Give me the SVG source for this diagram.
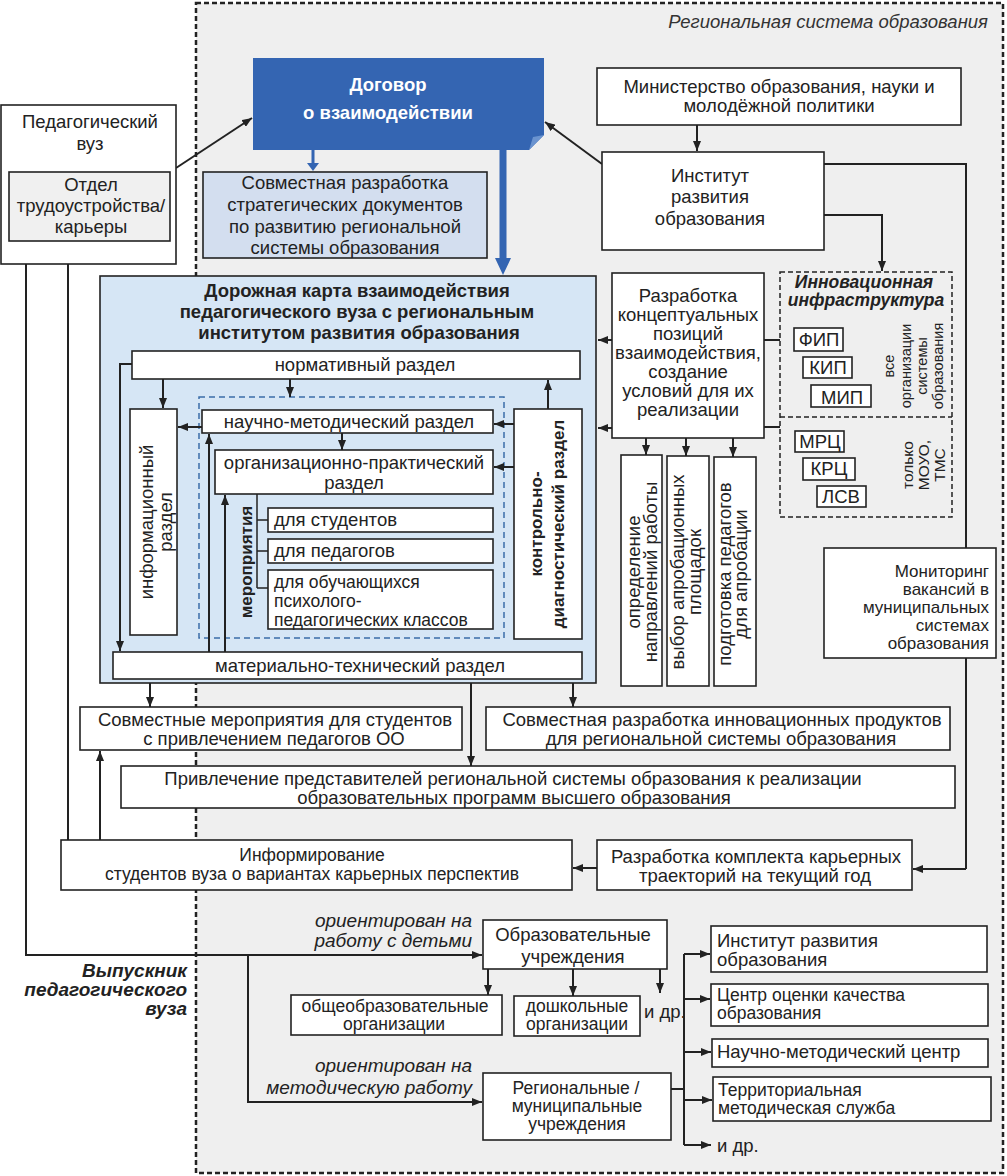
<svg xmlns="http://www.w3.org/2000/svg" width="1007" height="1176" viewBox="0 0 1007 1176">
<defs>
<style>
text{font-family:"Liberation Sans",Arial,sans-serif;font-size:18.5px;fill:#222}
.m{text-anchor:middle}
.e{text-anchor:end}
.b{font-weight:bold}
.i{font-style:italic}
.s{font-size:17.5px}
.xs{font-size:17px}
.box{fill:#fff;stroke:#222;stroke-width:1.6}
.ln{fill:none;stroke:#222;stroke-width:2}
.ar{fill:none;stroke:#222;stroke-width:2;marker-end:url(#a)}
</style>
<marker id="a" markerWidth="10" markerHeight="8" refX="10" refY="4" orient="auto" markerUnits="userSpaceOnUse"><path d="M0,0 L10,4 L0,8 z" fill="#222"/></marker>
</defs>
<rect width="1007" height="1176" fill="#fff"/>
<g id="region">
<rect x="196" y="3" width="807" height="1170" fill="#efefef" stroke="#222" stroke-width="2.5" stroke-dasharray="5,3"/>
<text x="988" y="28" class="e i" style="fill:#333">Региональная система образования</text>
</g>

<g id="connectors">
<path class="ar" d="M176,168 L252,118"/>
<path class="ar" d="M602,164 L545,122"/>
<path class="ar" d="M697,125 V151"/>
<path class="ln" d="M824,164 H966 V869"/>
<path class="ar" d="M966,869 H913"/>
<path class="ar" d="M824,215 H882 V271"/>
<path class="ar" d="M612,340 H598"/>
<path class="ar" d="M612,428 H598"/>
<path class="ln" d="M764,340 H780 M764,427 H780"/>
<path class="ar" d="M646,438 V455"/>
<path class="ar" d="M686,438 V456"/>
<path class="ar" d="M733,438 V457"/>
<path class="ar" d="M150,683 V707"/>
<path class="ar" d="M471,683 V766"/>
<path class="ar" d="M573,683 V707"/>
<path class="ar" d="M597,868 H573"/>
<path class="ar" d="M100,840 V751"/>
<path class="ar" d="M68,840 V242"/>
<path class="ar" d="M26,264 V955 H482"/>
<path class="ar" d="M248,955 V1102 H482"/>
<path class="ar" d="M488,969 V995"/>
<path class="ar" d="M573,969 V996"/>
<path class="ar" d="M660,969 V993"/>
<path class="ln" d="M671,1089 H684 M684,954 V1145"/>
<path class="ar" d="M684,954 H710"/>
<path class="ar" d="M684,999 H710"/>
<path class="ar" d="M684,1052 H711"/>
<path class="ar" d="M684,1100 H712"/>
<path class="ar" d="M684,1145 H711"/>
<path d="M311.5,150 H314.5 V163 H319 L313,171 L307,163 H311.5 Z" fill="#3465b2"/>
<path d="M499.5,150 H506.5 V258 H511 L503,275 L495,258 H499.5 Z" fill="#3465b2"/>
</g>

<g id="ped-vuz">
<rect x="1" y="105" width="175" height="159" class="box"/>
<text x="90" y="128" class="m">Педагогический</text>
<text x="90" y="150" class="m">вуз</text>
</g>
<g id="otdel">
<rect x="9" y="172" width="161" height="69" fill="#f0f0f0" stroke="#222" stroke-width="1.6"/>
<text x="91" y="191" class="m">Отдел</text>
<text x="91" y="212" class="m">трудоустройства/</text>
<text x="91" y="233" class="m">карьеры</text>
</g>

<g id="dogovor">
<path d="M253,58 H544 V135 L529,150 H253 Z" fill="#3465b2"/>
<path d="M529,150 L533,137 L544,135 Z" fill="#6a93cf"/>
<text x="388" y="91" class="m b" style="fill:#fff">Договор</text>
<text x="388" y="119" class="m b" style="fill:#fff">о взаимодействии</text>
</g>

<g id="strateg">
<rect x="203" y="172" width="284" height="86" fill="#d3deef" stroke="#222" stroke-width="1.6"/>
<text x="345" y="189" class="m">Совместная разработка</text>
<text x="345" y="211" class="m">стратегических документов</text>
<text x="345" y="233" class="m">по развитию региональной</text>
<text x="345" y="254" class="m">системы образования</text>
</g>

<g id="ministry">
<rect x="597" y="68" width="364" height="57" class="box"/>
<text x="779" y="93" class="m">Министерство образования, науки и</text>
<text x="779" y="112" class="m">молодёжной политики</text>
</g>

<g id="institut">
<rect x="602" y="152" width="222" height="98" class="box"/>
<text x="710" y="182" class="m">Институт</text>
<text x="710" y="203" class="m">развития</text>
<text x="710" y="225" class="m">образования</text>
</g>

<g id="monitoring">
<rect x="824" y="548" width="172" height="110" class="box"/>
<text x="989" y="577" class="e xs">Мониторинг</text>
<text x="989" y="595" class="e xs">вакансий в</text>
<text x="989" y="613" class="e xs">муниципальных</text>
<text x="989" y="631" class="e xs">системах</text>
<text x="989" y="649" class="e xs">образования</text>
</g>

<g id="innov">
<rect x="780" y="272" width="172" height="245" fill="none" stroke="#222" stroke-width="1.5" stroke-dasharray="5,3"/>
<path d="M780,417 H952" stroke="#222" stroke-width="1.5" stroke-dasharray="5,3"/>
<text x="864" y="288" class="m b i" style="font-size:17.5px">Инновационная</text>
<text x="866" y="306" class="m b i" style="font-size:17.5px">инфраструктура</text>
<rect x="794" y="328" width="49" height="23" class="box"/>
<text x="819" y="346" class="m">ФИП</text>
<rect x="803" y="357" width="49" height="21" class="box"/>
<text x="828" y="374" class="m">КИП</text>
<rect x="811" y="385" width="60" height="22" class="box"/>
<text x="842" y="404" class="m">МИП</text>
<text transform="translate(894,366) rotate(-90)" class="m" style="font-size:14.5px">все</text>
<text transform="translate(911,366) rotate(-90)" class="m" style="font-size:14.5px">организации</text>
<text transform="translate(927,366) rotate(-90)" class="m" style="font-size:14.5px">системы</text>
<text transform="translate(943,366) rotate(-90)" class="m" style="font-size:14.5px">образования</text>
<rect x="795" y="431" width="49" height="21" class="box"/>
<text x="820" y="448" class="m">МРЦ</text>
<rect x="803" y="458" width="52" height="22" class="box"/>
<text x="829" y="475" class="m">КРЦ</text>
<rect x="817" y="486" width="49" height="21" class="box"/>
<text x="841" y="503" class="m">ЛСВ</text>
<text transform="translate(913,465) rotate(-90)" class="m" style="font-size:15.5px">только</text>
<text transform="translate(929,465) rotate(-90)" class="m" style="font-size:15.5px">МОУО,</text>
<text transform="translate(945,465) rotate(-90)" class="m" style="font-size:15.5px">ТМС</text>
</g>

<g id="razrabotka">
<rect x="612" y="273" width="152" height="165" class="box"/>
<text x="688" y="302" class="m">Разработка</text>
<text x="688" y="321" class="m">концептуальных</text>
<text x="688" y="340" class="m">позиций</text>
<text x="688" y="359" class="m">взаимодействия,</text>
<text x="688" y="378" class="m">создание</text>
<text x="688" y="397" class="m">условий для их</text>
<text x="688" y="416" class="m">реализации</text>
</g>

<g id="v1">
<rect x="621" y="455" width="41" height="231" class="box"/>
<text transform="translate(640,572) rotate(-90)" class="m">определение</text>
<text transform="translate(657,572) rotate(-90)" class="m">направлений работы</text>
</g>
<g id="v2">
<rect x="667" y="456" width="42" height="230" class="box"/>
<text transform="translate(684,572) rotate(-90)" class="m">выбор апробационных</text>
<text transform="translate(701,572) rotate(-90)" class="m">площадок</text>
</g>
<g id="v3">
<rect x="714" y="457" width="42" height="229" class="box"/>
<text transform="translate(731,574) rotate(-90)" class="m">подготовка педагогов</text>
<text transform="translate(747,574) rotate(-90)" class="m">для апробации</text>
</g>

<g id="roadmap">
<rect x="100" y="276" width="496" height="407" fill="#d6e6f5" stroke="#222" stroke-width="1.6"/>
<text x="357" y="297" class="m b">Дорожная карта взаимодействия</text>
<text x="357" y="318" class="m b">педагогического вуза с региональным</text>
<text x="359" y="339" class="m b">институтом развития образования</text>
<rect x="199" y="397" width="305" height="241" fill="none" stroke="#3b6ea8" stroke-width="1.5" stroke-dasharray="6,4"/>
<g id="roadmap-links">
<path class="ar" d="M163,379 V408"/>
<path class="ar" d="M290,379 V397"/>
<path class="ar" d="M132,364 H120 V651"/>
<path class="ar" d="M202,427 H178"/>
<path class="ar" d="M342,433 V450"/>
<path class="ar" d="M209,652 V434"/>
<path class="ar" d="M225,652 V495"/>
<path class="ln" style="stroke-width:1.5" d="M257,494 V588 M257,520 H268 M257,551 H268 M257,588 H268"/>
<path class="ar" d="M514,424 H494"/>
<path class="ar" d="M514,467 H494"/>
<path class="ar" d="M548,409 V380"/>
</g>
</g>
<g id="normativ">
<rect x="132" y="351" width="448" height="28" class="box"/>
<text x="365" y="371" class="m">нормативный раздел</text>
</g>
<g id="inform">
<rect x="130" y="409" width="47" height="226" class="box"/>
<text transform="translate(153,522) rotate(-90)" class="m">информационный</text>
<text transform="translate(172,522) rotate(-90)" class="m">раздел</text>
</g>
<g id="nauch">
<rect x="202" y="410" width="291" height="23" class="box"/>
<text x="349" y="428" class="m">научно-методический раздел</text>
</g>
<g id="org">
<rect x="215" y="450" width="278" height="44" class="box"/>
<text x="354" y="469" class="m">организационно-практический</text>
<text x="354" y="489" class="m">раздел</text>
</g>
<g id="meropr">
<text transform="translate(252,562) rotate(-90)" class="m b" style="font-size:17px">мероприятия</text>
</g>
<g id="stud">
<rect x="268" y="508" width="225" height="24" class="box"/>
<text x="274" y="526">для студентов</text>
</g>
<g id="ped">
<rect x="268" y="539" width="225" height="24" class="box"/>
<text x="274" y="557">для педагогов</text>
</g>
<g id="obuch">
<rect x="268" y="570" width="225" height="59" class="box"/>
<text x="274" y="588" class="s">для обучающихся</text>
<text x="274" y="607" class="s">психолого-</text>
<text x="274" y="626" class="s">педагогических классов</text>
</g>
<g id="kd">
<rect x="514" y="409" width="68" height="230" class="box"/>
<text transform="translate(542,524) rotate(-90)" class="m b" style="font-size:17px">контрольно-</text>
<text transform="translate(564,524) rotate(-90)" class="m b" style="font-size:17px">диагностический раздел</text>
</g>
<g id="mt">
<rect x="113" y="652" width="469" height="27" class="box"/>
<text x="360" y="672" class="m">материально-технический раздел</text>
</g>

<g id="sovm-mer">
<rect x="80" y="707" width="382" height="43" class="box"/>
<text x="275" y="726" class="m">Совместные мероприятия для студентов</text>
<text x="274" y="745" class="m">с привлечением педагогов ОО</text>
</g>
<g id="sovm-innov">
<rect x="486" y="707" width="464" height="43" class="box"/>
<text x="722" y="726" class="m">Совместная разработка инновационных продуктов</text>
<text x="721" y="745" class="m">для региональной системы образования</text>
</g>
<g id="privl">
<rect x="121" y="766" width="834" height="42" class="box"/>
<text x="513" y="785" class="m">Привлечение представителей региональной системы образования к реализации</text>
<text x="514" y="804" class="m">образовательных программ высшего образования</text>
</g>
<g id="inform-stud">
<rect x="61" y="840" width="511" height="50" class="box"/>
<text x="312" y="861" class="m s">Информирование</text>
<text x="312" y="880" class="m s">студентов вуза о вариантах карьерных перспектив</text>
</g>
<g id="kariera">
<rect x="597" y="840" width="315" height="50" class="box"/>
<text x="756" y="863" class="m">Разработка комплекта карьерных</text>
<text x="755" y="882" class="m">траекторий на текущий год</text>
</g>

<g id="labels">
<text x="187" y="977" class="e b i" style="font-size:19px">Выпускник</text>
<text x="187" y="996" class="e b i" style="font-size:19px">педагогического</text>
<text x="187" y="1015" class="e b i" style="font-size:19px">вуза</text>
<text x="472" y="927" class="e i" style="font-size:19px">ориентирован на</text>
<text x="472" y="947" class="e i" style="font-size:19px">работу с детьми</text>
<text x="472" y="1072" class="e i" style="font-size:19px">ориентирован на</text>
<text x="472" y="1094" class="e i" style="font-size:19px">методическую работу</text>
</g>

<g id="obr-uchr">
<rect x="483" y="920" width="184" height="49" class="box"/>
<text x="573" y="941" class="m">Образовательные</text>
<text x="573" y="963" class="m">учреждения</text>
</g>
<g id="obsheobr">
<rect x="291" y="995" width="211" height="40" class="box"/>
<text x="395" y="1012" class="m s">общеобразовательные</text>
<text x="394" y="1030" class="m s">организации</text>
</g>
<g id="doshk">
<rect x="514" y="996" width="126" height="40" class="box"/>
<text x="577" y="1012" class="m s">дошкольные</text>
<text x="577" y="1030" class="m s">организации</text>
</g>
<text x="644" y="1018">и др.</text>
<g id="reg-mun">
<rect x="483" y="1073" width="188" height="67" class="box"/>
<text x="576" y="1094" class="m s">Региональные /</text>
<text x="577" y="1112" class="m s">муниципальные</text>
<text x="577" y="1130" class="m s">учреждения</text>
</g>
<g id="r-inst">
<rect x="711" y="926" width="276" height="46" class="box"/>
<text x="717" y="947">Институт развития</text>
<text x="717" y="966">образования</text>
</g>
<g id="r-coko">
<rect x="711" y="984" width="277" height="42" class="box"/>
<text x="717" y="1001" class="s">Центр оценки качества</text>
<text x="717" y="1019" class="s">образования</text>
</g>
<g id="r-nmc">
<rect x="712" y="1039" width="276" height="28" class="box"/>
<text x="717" y="1058">Научно-методический центр</text>
</g>
<g id="r-tms">
<rect x="713" y="1077" width="278" height="44" class="box"/>
<text x="718" y="1096" class="s">Территориальная</text>
<text x="718" y="1114" class="s">методическая служба</text>
</g>
<text x="717" y="1152">и др.</text>
</svg>
